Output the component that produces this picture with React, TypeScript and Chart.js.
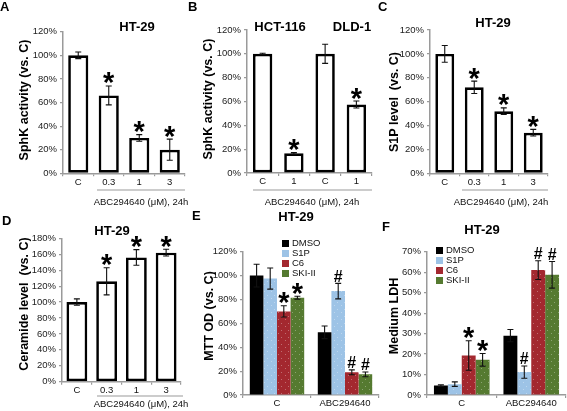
import React, { useEffect, useRef } from 'react';
import { Chart, registerables } from 'chart.js';

Chart.register(...registerables);

const W = 567;
const H = 411;
const FONT = '"Liberation Sans", Arial, Helvetica, sans-serif';
const AXIS = '#9a9a9a';
const INK = '#111111';

// ---- Panel A: SphK activity in HT-29 ----
const doseLabels = ['C', '0.3', '1', '3'];
const sphkHT29 = [100, 66, 30, 20];
const sphkHT29Err = [2.8, 8, 2.8, 9];
const sphkHT29Marks = ['', '*', '*', '*'];

// ---- Panel B: SphK activity in HCT-116 and DLD-1 ----
const lineLabels = ['C', '1', 'C', '1'];
const sphkLines = [100, 16.5, 100, 57.5];
const sphkLinesErr = [0.5, 0.7, 8, 2.9];
const sphkLinesMarks = ['', '*', '', '*'];

// ---- Panel C: S1P level ----
const s1pLevel = [100, 72, 52, 34];
const s1pLevelErr = [7, 5.2, 2.8, 2.8];
const s1pLevelMarks = ['', '*', '*', '*'];

// ---- Panel D: Ceramide level ----
const ceramideLevel = [100, 126, 156, 162];
const ceramideErr = [4, 17, 9.8, 4.2];
const ceramideMarks = ['', '*', '*', '*'];

// ---- Panels E / F: co-treatments ----
const groupLabels = ['C', 'ABC294640'];
const treatments = ['DMSO', 'S1P', 'C6', 'SKI-II'];
const treatmentColors = ['#000000', '#9dc3e6', '#a3282f', '#557a30'];

const mttDMSO = [100, 52.5];
const mttS1P = [97.5, 87];
const mttC6 = [70, 19];
const mttSKI = [81.5, 17.3];
const mttDMSOErr = [9.5, 5.3];
const mttS1PErr = [8.8, 6.5];
const mttC6Err = [4.7, 2];
const mttSKIErr = [1.2, 2];
const mttDMSOMarks = ['', ''];
const mttS1PMarks = ['', '#'];
const mttC6Marks = ['*', '#'];
const mttSKIMarks = ['*', '#'];

const ldhDMSO = [4.6, 29];
const ldhS1P = [5.3, 11.2];
const ldhC6 = [19.3, 61];
const ldhSKI = [17.2, 58.7];
const ldhDMSOErr = [0.4, 3];
const ldhS1PErr = [1.1, 3];
const ldhC6Err = [7.2, 4.6];
const ldhSKIErr = [3.1, 6.5];
const ldhDMSOMarks = ['', ''];
const ldhS1PMarks = ['', '#'];
const ldhC6Marks = ['*', '#'];
const ldhSKIMarks = ['*', '#'];

const doseNote = 'ABC294640 (\u03bcM), 24h';

type Series = {
  label: string;
  data: number[];
  err: number[];
  marks: string[];
  color: string;
  dotted?: boolean;
};

type Txt = { text: string; x: number; y: number };

type PanelSpec = {
  labels: string[];
  series: Series[];
  yMax: number;
  yStep: number;
  area: { left: number; right: number; top: number; bottom: number };
  barPct: number;
  catPct: number;
  outlined: boolean;
  letter: Txt;
  titles: Txt[];
  yTitle: Txt;
  underline?: { x1: number; x2: number; y: number };
  note?: Txt;
  legend?: { x: number; y: number };
};

// Sparse light speckles over a solid fill
function speckle(color: string): CanvasPattern | string {
  const c = document.createElement('canvas');
  c.width = 7;
  c.height = 7;
  const g = c.getContext('2d');
  if (!g) return color;
  g.fillStyle = color;
  g.fillRect(0, 0, 7, 7);
  g.fillStyle = 'rgba(255,255,255,0.32)';
  g.fillRect(1, 1, 1, 1);
  g.fillRect(5, 4, 1, 1);
  const p = g.createPattern(c, 'repeat');
  return p || color;
}

function single(data: number[], err: number[], marks: string[]): Series[] {
  return [{ label: 'value', data, err, marks, color: '#ffffff' }];
}

function grouped(
  data: number[][],
  err: number[][],
  marks: string[][]
): Series[] {
  return treatments.map((t, i) => ({
    label: t,
    data: data[i],
    err: err[i],
    marks: marks[i],
    color: treatmentColors[i],
    dotted: i > 0,
  }));
}

const panels: PanelSpec[] = [
  {
    labels: doseLabels,
    series: single(sphkHT29, sphkHT29Err, sphkHT29Marks),
    yMax: 120,
    yStep: 20,
    area: { left: 63, right: 185, top: 31.7, bottom: 173.3 },
    barPct: 0.66,
    catPct: 1,
    outlined: true,
    letter: { text: 'A', x: 0, y: 7 },
    titles: [{ text: 'HT-29', x: 137, y: 27 }],
    yTitle: { text: 'SphK activity (vs. C)', x: 25, y: 100 },
    underline: { x1: 97, x2: 185, y: 190 },
    note: { text: doseNote, x: 141, y: 202 },
  },
  {
    labels: lineLabels,
    series: single(sphkLines, sphkLinesErr, sphkLinesMarks),
    yMax: 120,
    yStep: 20,
    area: { left: 247, right: 372, top: 30, bottom: 173 },
    barPct: 0.62,
    catPct: 1,
    outlined: true,
    letter: { text: 'B', x: 188, y: 7 },
    titles: [
      { text: 'HCT-116', x: 280, y: 27 },
      { text: 'DLD-1', x: 352, y: 27 },
    ],
    yTitle: { text: 'SphK activity (vs. C)', x: 209, y: 99 },
    underline: { x1: 253, x2: 372, y: 190 },
    note: { text: doseNote, x: 312, y: 202 },
  },
  {
    labels: doseLabels,
    series: single(s1pLevel, s1pLevelErr, s1pLevelMarks),
    yMax: 120,
    yStep: 20,
    area: { left: 430, right: 548, top: 30, bottom: 173.3 },
    barPct: 0.64,
    catPct: 1,
    outlined: true,
    letter: { text: 'C', x: 378, y: 7 },
    titles: [{ text: 'HT-29', x: 493, y: 23 }],
    yTitle: { text: 'S1P level  (vs. C)', x: 395, y: 102 },
    underline: { x1: 462, x2: 548, y: 190 },
    note: { text: doseNote, x: 501, y: 202 },
  },
  {
    labels: doseLabels,
    series: single(ceramideLevel, ceramideErr, ceramideMarks),
    yMax: 180,
    yStep: 20,
    area: { left: 62, right: 181, top: 238.3, bottom: 381.7 },
    barPct: 0.7,
    catPct: 1,
    outlined: true,
    letter: { text: 'D', x: 2, y: 221 },
    titles: [{ text: 'HT-29', x: 112, y: 231 }],
    yTitle: { text: 'Ceramide level  (vs. C)', x: 25, y: 304 },
    underline: { x1: 97, x2: 183, y: 396 },
    note: { text: doseNote, x: 141, y: 404 },
  },
  {
    labels: groupLabels,
    series: grouped(
      [mttDMSO, mttS1P, mttC6, mttSKI],
      [mttDMSOErr, mttS1PErr, mttC6Err, mttSKIErr],
      [mttDMSOMarks, mttS1PMarks, mttC6Marks, mttSKIMarks]
    ),
    yMax: 120,
    yStep: 20,
    area: { left: 243, right: 379, top: 251.7, bottom: 395 },
    barPct: 1,
    catPct: 0.8,
    outlined: false,
    letter: { text: 'E', x: 192, y: 216 },
    titles: [{ text: 'HT-29', x: 296, y: 217 }],
    yTitle: { text: 'MTT OD (vs. C)', x: 210, y: 316 },
    legend: { x: 282, y: 240 },
  },
  {
    labels: groupLabels,
    series: grouped(
      [ldhDMSO, ldhS1P, ldhC6, ldhSKI],
      [ldhDMSOErr, ldhS1PErr, ldhC6Err, ldhSKIErr],
      [ldhDMSOMarks, ldhS1PMarks, ldhC6Marks, ldhSKIMarks]
    ),
    yMax: 70,
    yStep: 10,
    area: { left: 427, right: 566, top: 251.7, bottom: 395 },
    barPct: 1,
    catPct: 0.8,
    outlined: false,
    letter: { text: 'F', x: 382, y: 227 },
    titles: [{ text: 'HT-29', x: 482, y: 230 }],
    yTitle: { text: 'Medium LDH', x: 395, y: 316 },
    legend: { x: 436, y: 247 },
  },
];

const Y_AXIS_W = 45;
const X_AXIS_H = 14;

function drawMark(ctx: CanvasRenderingContext2D, mark: string, x: number, bottom: number) {
  const target = mark === '*' ? 11 : 11;
  ctx.font = `bold 100px ${FONT}`;
  const m = ctx.measureText(mark);
  const h = m.actualBoundingBoxAscent + m.actualBoundingBoxDescent;
  const k = h > 0 ? target / h : 0.2;
  const size = 100 * k;
  ctx.font = `bold ${size}px ${FONT}`;
  const m2 = ctx.measureText(mark);
  ctx.textAlign = 'center';
  ctx.textBaseline = 'alphabetic';
  ctx.fillStyle = '#000';
  ctx.fillText(mark, x, bottom - m2.actualBoundingBoxDescent);
}

function makeAnnotations(spec: PanelSpec) {
  return {
    id: 'panelAnnotations',
    afterDatasetsDraw(chart: Chart) {
      const ctx = chart.ctx;
      const yScale = chart.scales.y;
      ctx.save();
      spec.series.forEach((s, di) => {
        const meta = chart.getDatasetMeta(di);
        meta.data.forEach((bar: any, j: number) => {
          const v = s.data[j];
          const e = s.err[j];
          const x = bar.x;
          const yHi = yScale.getPixelForValue(v + e);
          const yLo = yScale.getPixelForValue(v - e);
          ctx.strokeStyle = INK;
          ctx.lineWidth = 1.1;
          ctx.beginPath();
          ctx.moveTo(x, yHi);
          ctx.lineTo(x, yLo);
          ctx.moveTo(x - 3, yHi);
          ctx.lineTo(x + 3, yHi);
          ctx.moveTo(x - 3, yLo);
          ctx.lineTo(x + 3, yLo);
          ctx.stroke();
          const mark = s.marks[j];
          if (mark) drawMark(ctx, mark, x, yHi - 1.5);
        });
      });
      ctx.restore();
    },
    afterDraw(chart: Chart) {
      const ctx = chart.ctx;
      ctx.save();
      ctx.fillStyle = '#000';
      ctx.textBaseline = 'middle';

      ctx.textAlign = 'left';
      ctx.font = `bold 13px ${FONT}`;
      ctx.fillText(spec.letter.text, spec.letter.x, spec.letter.y);

      ctx.textAlign = 'center';
      ctx.font = `bold 13px ${FONT}`;
      spec.titles.forEach((t) => ctx.fillText(t.text, t.x, t.y));

      ctx.save();
      ctx.translate(spec.yTitle.x, spec.yTitle.y);
      ctx.rotate(-Math.PI / 2);
      ctx.font = `bold 12.5px ${FONT}`;
      ctx.fillText(spec.yTitle.text, 0, 0);
      ctx.restore();

      if (spec.underline) {
        ctx.strokeStyle = AXIS;
        ctx.lineWidth = 1.2;
        ctx.beginPath();
        ctx.moveTo(spec.underline.x1, spec.underline.y);
        ctx.lineTo(spec.underline.x2, spec.underline.y);
        ctx.stroke();
      }
      if (spec.note) {
        ctx.font = `9.5px ${FONT}`;
        ctx.fillStyle = INK;
        ctx.fillText(spec.note.text, spec.note.x, spec.note.y);
      }
      if (spec.legend) {
        const lg = spec.legend;
        ctx.font = `9.5px ${FONT}`;
        ctx.textAlign = 'left';
        spec.series.forEach((s, i) => {
          const y = lg.y + i * 10;
          ctx.fillStyle = s.color;
          ctx.fillRect(lg.x, y, 7, 7);
          ctx.fillStyle = INK;
          ctx.fillText(s.label, lg.x + 10, y + 3.8);
        });
      }
      ctx.restore();
    },
  };
}

function Panel({ spec }: { spec: PanelSpec }) {
  const ref = useRef<HTMLCanvasElement | null>(null);
  useEffect(() => {
    const canvas = ref.current;
    if (!canvas) return;
    const a = spec.area;
    const chart = new Chart(canvas, {
      type: 'bar',
      data: {
        labels: spec.labels,
        datasets: spec.series.map((s) => ({
          label: s.label,
          data: s.data,
          backgroundColor: s.dotted ? speckle(s.color) : s.color,
          borderColor: '#000000',
          borderWidth: spec.outlined ? 2.7 : 0,
          borderSkipped: false,
          barPercentage: spec.barPct,
          categoryPercentage: spec.catPct,
        })),
      },
      options: {
        responsive: false,
        animation: false,
        events: [],
        layout: {
          padding: {
            left: a.left - Y_AXIS_W,
            right: W - a.right,
            top: a.top,
            bottom: H - a.bottom - X_AXIS_H,
          },
        },
        plugins: {
          legend: { display: false },
          tooltip: { enabled: false },
          title: { display: false },
        },
        scales: {
          x: {
            grid: {
              display: true,
              drawOnChartArea: false,
              drawTicks: true,
              tickLength: 3,
              color: AXIS,
              lineWidth: 1.2,
              offset: true,
            },
            border: { display: true, color: AXIS, width: 1.5 },
            ticks: {
              color: INK,
              font: { family: FONT, size: 9.5 },
              padding: 0,
              maxRotation: 0,
              autoSkip: false,
            },
            afterFit: (s: any) => {
              s.height = X_AXIS_H;
            },
          },
          y: {
            min: 0,
            max: spec.yMax,
            grid: {
              display: true,
              drawOnChartArea: false,
              drawTicks: true,
              tickLength: 3,
              color: AXIS,
              lineWidth: 1.2,
            },
            border: { display: true, color: AXIS, width: 1.5 },
            ticks: {
              stepSize: spec.yStep,
              color: '#222222',
              font: { family: FONT, size: 9.5 },
              padding: 3,
              callback: (v: any) => `${v}%`,
            },
            afterFit: (s: any) => {
              s.width = Y_AXIS_W;
            },
          },
        },
      },
      plugins: [makeAnnotations(spec)],
    } as any);
    return () => chart.destroy();
  }, [spec]);
  return (
    <canvas
      ref={ref}
      width={W}
      height={H}
      style={{ position: 'absolute', left: 0, top: 0, width: W, height: H }}
    />
  );
}

export default function App() {
  return (
    <div
      style={{
        position: 'fixed',
        left: 0,
        top: 0,
        width: W,
        height: H,
        background: '#ffffff',
        overflow: 'hidden',
      }}
    >
      {panels.map((p, i) => (
        <Panel key={i} spec={p} />
      ))}
    </div>
  );
}
